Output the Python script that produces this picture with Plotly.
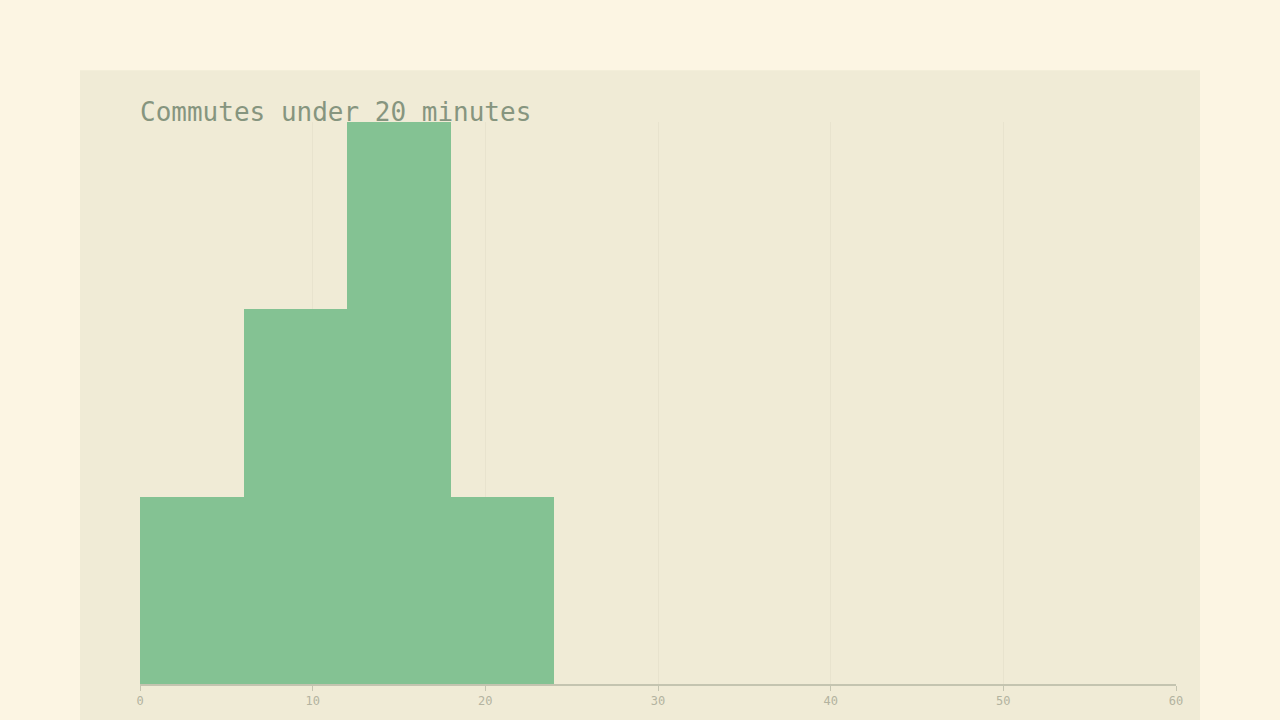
import plotly.graph_objects as go

# histogram bins (minutes) and counts
bin_starts = [0, 6, 12, 18]
bin_width = 6
counts = [1, 2, 3, 1]
tick_vals = [0, 10, 20, 30, 40, 50, 60]
title_text = "Commutes under 20 minutes"

W, H = 1280, 720
ml, mr, mt, mb = 140, 104, 122, 34
pw = W - ml - mr
ph = H - mt - mb

fig = go.Figure(
    go.Bar(
        x=bin_starts,
        y=counts,
        width=[bin_width] * len(bin_starts),
        offset=0,
        marker=dict(color="#84c293", line=dict(width=0)),
        hoverinfo="skip",
    )
)

# inner panel behind the plot
fig.add_shape(
    type="rect", xref="paper", yref="paper", layer="below",
    x0=(80 - ml) / pw, x1=(1200 - ml) / pw,
    y0=-(mb + 10) / ph, y1=(H - 70 - mb) / ph,
    fillcolor="#f0ebd6", line=dict(width=0),
)

mono = "DejaVu Sans Mono, monospace"

fig.update_layout(
    width=W,
    height=H,
    margin=dict(l=ml, r=mr, t=mt, b=mb),
    paper_bgcolor="#fcf5e3",
    plot_bgcolor="rgba(0,0,0,0)",
    bargap=0,
    showlegend=False,
    title=dict(
        text=title_text,
        font=dict(family=mono, size=26, color="#86957f"),
        xref="paper", x=0, xanchor="left",
        yref="container", y=(H - 112) / H, yanchor="middle",
    ),
    xaxis=dict(
        range=[0, 60],
        tickvals=tick_vals,
        showgrid=True,
        gridcolor="#e8e3ce",
        gridwidth=1,
        showline=True,
        linecolor="#c4c4b0",
        linewidth=2,
        ticks="outside",
        ticklen=5,
        tickcolor="#c4c4b0",
        tickfont=dict(family=mono, size=12, color="#b3b3a0"),
        zeroline=False,
    ),
    yaxis=dict(
        range=[0, 3],
        visible=False,
        showgrid=False,
        zeroline=False,
    ),
)

# page has no margin around the figure
fig.write_html(
    "out.html",
    config={"displayModeBar": False},
    post_script="document.body.style.margin='0';",
)
